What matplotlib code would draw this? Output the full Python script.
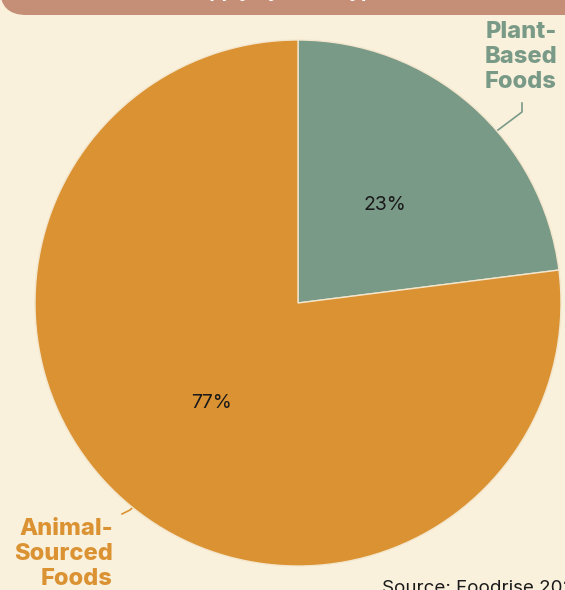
import matplotlib.pyplot as plt
from matplotlib.patches import FancyBboxPatch

labels = ['Plant-\nBased\nFoods', 'Animal-\nSourced\nFoods']
shares = [23, 77]
pct_labels = ['23%', '77%']
colors = ['#7A9A88', '#DB9232']

bg = '#FAF1DC'
W, H = 565, 590

fig = plt.figure(figsize=(W / 100, H / 100), dpi=100, facecolor=bg)

# pixel-space overlay for the header bar, labels and leader lines
ov = fig.add_axes([0, 0, 1, 1], zorder=0)
ov.set_xlim(0, W)
ov.set_ylim(H, 0)
ov.axis('off')
ov.add_patch(FancyBboxPatch((0, -60), W + 60, 75, boxstyle='round,pad=0,rounding_size=26',
                            facecolor='#C58E76', edgecolor='none'))
# title (mostly cropped off the top in the reference)
ov.text(282, -3, 'Protein Supply by Food Type (2022)', color='white',
        fontsize=14, fontweight='bold', ha='center', va='baseline', family='Inter')

# pie: centre (298, 303), radius 263 px
r = 263
ax = fig.add_axes([(298 - r) / W, (H - 303 - r) / H, 2 * r / W, 2 * r / H], zorder=1)
ax.pie(shares, colors=colors, startangle=90, counterclock=False,
       wedgeprops=dict(edgecolor='#F3E6CC', linewidth=1.0))
ax.set_xlim(-1, 1)
ax.set_ylim(-1, 1)
ax.set_aspect('auto')
ax.axis('off')

top = fig.add_axes([0, 0, 1, 1], zorder=2)
top.set_xlim(0, W)
top.set_ylim(H, 0)
top.axis('off')

# percentage labels
top.text(385, 205, pct_labels[0], fontsize=14, ha='center', va='center',
         color='#1a1a1a', family='Inter')
top.text(211, 403, pct_labels[1], fontsize=14, ha='center', va='center',
         color='#1a1a1a', family='Inter')

# category labels
top.text(557, 21, labels[0], fontsize=17, fontweight='heavy', ha='right',
         va='top', color=colors[0], linespacing=1.17, family='Inter')
top.text(113, 518, labels[1], fontsize=17, fontweight='heavy', ha='right',
         va='top', color=colors[1], linespacing=1.17, family='Inter')

# leader lines
top.plot([522, 522, 498], [103, 112, 130], color=colors[0], lw=1.2)
ov.plot([122, 130, 140], [514, 510, 500], color=colors[1], lw=1.2)

top.text(382, 593, 'Source: Foodrise 2024', fontsize=13.5, ha='left',
         va='baseline', color='#1a1a1a', family='Inter')

fig.savefig('out.png', dpi=100, facecolor=bg)
